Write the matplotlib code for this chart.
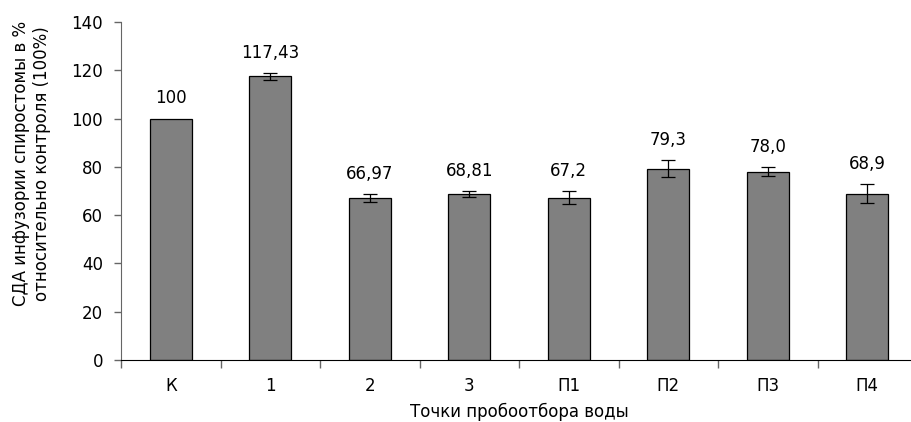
import matplotlib
matplotlib.use("Agg")
import matplotlib.pyplot as plt
import numpy as np

categories = ["К", "1", "2", "3", "П1", "П2", "П3", "П4"]
values = [100, 117.43, 66.97, 68.81, 67.2, 79.3, 78.0, 68.9]
errors = [0, 1.4, 1.7, 1.3, 2.7, 3.6, 2.0, 3.8]
value_labels = ["100", "117,43", "66,97", "68,81", "67,2", "79,3", "78,0", "68,9"]

plt.rcParams["font.family"] = ["DejaVu Sans"]
plt.rcParams["font.size"] = 12

fig = plt.figure(figsize=(9.12, 4.22), dpi=100)
ax = fig.add_axes([0.1327, 0.147, 0.8728, 0.801])

x = np.arange(len(categories))
ax.bar(x, values, width=0.42, color="#808080", edgecolor="black", linewidth=0.9,
       yerr=[e if e > 0 else np.nan for e in errors],
       error_kw=dict(ecolor="black", elinewidth=0.9, capsize=5, capthick=0.9))

for xi, v, e, lab in zip(x, values, errors, value_labels):
    ax.annotate(lab, (xi, v + e), xytext=(0, 8), textcoords="offset points",
                ha="center", va="bottom", fontsize=12)

ax.set_xlim(-0.5, len(categories) - 0.5)
ax.set_ylim(0, 140)
ax.set_yticks(np.arange(0, 141, 20))
ax.set_xticks(x)
ax.set_xticklabels(categories)
ax.set_xticks(np.arange(-0.5, len(categories), 1), minor=True)
ax.tick_params(axis="x", which="major", length=0, pad=12)
ax.tick_params(axis="x", which="minor", length=6, width=1, color="#666666")
ax.tick_params(axis="y", length=5, width=1, color="#666666", pad=8)

for s in ("top", "right"):
    ax.spines[s].set_visible(False)
ax.spines["left"].set_color("#666666")
ax.spines["bottom"].set_color("black")

ax.set_xlabel("Точки пробоотбора воды", fontsize=12, labelpad=6)
ax.set_ylabel("СДА инфузории спиростомы в %\nотносительно контроля (100%)",
              fontsize=12)
ax.yaxis.set_label_coords(-0.088, 0.58)

fig.savefig("out.png", dpi=100)
